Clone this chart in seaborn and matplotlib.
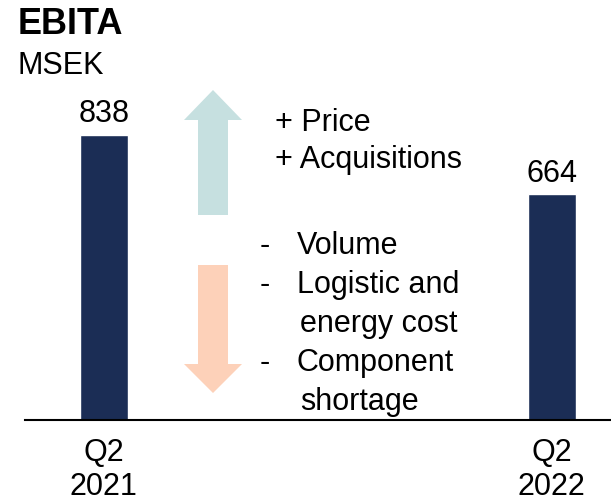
import matplotlib
matplotlib.use("Agg")
import matplotlib.pyplot as plt
import matplotlib.patches as mpatches
import seaborn as sns
import pandas as pd

# data
quarters = ["Q2\n2021", "Q2\n2022"]
ebita = [838, 664]
up_items = ["+ Price", "+ Acquisitions"]
down_items = [("Volume",), ("Logistic and", "energy cost"), ("Component", "shortage")]

sns.set_style("white")
plt.rcParams["font.family"] = ["Liberation Sans", "DejaVu Sans"]
plt.rcParams["text.color"] = "black"
plt.rcParams["xtick.color"] = "black"

W, H = 611, 503
fig = plt.figure(figsize=(W / 100, H / 100), dpi=100)


def px(x, y):
    return x / W, 1 - y / H


ax = fig.add_axes([25 / W, 1 - 420 / H, 1 - 25 / W, 420 / H])
df = pd.DataFrame({"q": quarters, "v": ebita})
sns.barplot(data=df, x="q", y="v", color="#1b2d55", width=0.107, saturation=1, ax=ax)
ax.set_xlim(-0.176, 1.132)
ax.set_ylim(0, 838 * 420 / 285)
ax.bar_label(ax.containers[0], fontsize=22, padding=4, color="black")
ax.set_xlabel("")
ax.set_ylabel("")
ax.set_yticks([])
ax.tick_params(axis="x", length=0, pad=13, labelsize=22, labelcolor="black")
for lab in ax.get_xticklabels():
    lab.set_linespacing(1.15)
for s in ["top", "left", "right"]:
    ax.spines[s].set_visible(False)
ax.spines["bottom"].set_color("black")
ax.spines["bottom"].set_linewidth(1.5)

# arrows (pixel coordinates of the figure)
up = [(198, 215), (228, 215), (228, 120), (242, 120), (213, 90), (184, 120), (198, 120)]
down = [(198, 265), (228, 265), (228, 364), (242, 364), (213, 393), (184, 364), (198, 364)]
for pts, col in [(up, "#c6e0e0"), (down, "#fdd1b9")]:
    fig.patches.append(mpatches.Polygon([px(*p) for p in pts], closed=True,
                                        transform=fig.transFigure, color=col, lw=0))

fig.text(*px(18, 25), "EBITA", fontsize=26, fontweight="bold", va="center")
fig.text(*px(18, 66), "MSEK", fontsize=22, va="center")

for i, t in enumerate(up_items):
    fig.text(*px(275, 123 + 37 * i), t, fontsize=22, va="center")

y = 246
for item in down_items:
    fig.text(*px(260, y), "-", fontsize=22, va="center")
    for j, line in enumerate(item):
        fig.text(*px(297 if j == 0 else 300, y), line, fontsize=22, va="center")
        y += 39

fig.savefig("out.png", dpi=100)
